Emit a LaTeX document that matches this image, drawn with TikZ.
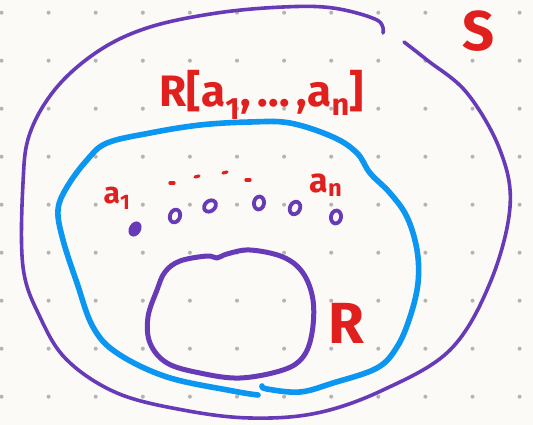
\documentclass[tikz,border=0pt]{standalone}
\usepackage{fontspec}
\setmainfont{Fira Sans}
\usepackage{xcolor}
\definecolor{paper}{HTML}{FCFAF6}
\definecolor{dotgray}{HTML}{B4B4B4}
\definecolor{penpurple}{HTML}{673AB7}
\definecolor{penblue}{HTML}{0B96F2}
\definecolor{penred}{HTML}{E0201E}
\usetikzlibrary{positioning}

\tikzset{
    griddot/.style={fill=dotgray},
    pen/.style={line cap=round, line join=round},
    setS/.style={pen, penpurple, line width=3.6pt},
    setRa/.style={pen, penblue, line width=5.6pt},
    setR/.style={pen, penpurple, line width=5pt},
    elem/.style={draw=penpurple, line width=3.8pt, fill=paper},
    label/.style={text=penred, inner sep=0pt, font=\bfseries}
}

\begin{document}
\begin{tikzpicture}[x=1pt, y=-1pt]
    \useasboundingbox (0,0) rectangle (533,425);
    \fill[paper] (0,0) rectangle (533,425);

    % dotted grid
    \foreach \i in {0,...,11} {
        \foreach \j in {0,...,8} {
            \fill[griddot] (1.5+47.1*\i, 12.7+48*\j) circle (2);
        }
    }

    % outer set S (open at the top right)
    \draw[setS] plot[smooth, tension=0.6] coordinates {
        (383,33) (377,20) (333,8) (283,7) (217,13) (150,27) (100,50)
        (57,87) (30,133) (23,183) (23,267) (40,317) (67,360) (117,393)
        (183,410) (250,418) (317,413) (383,390) (450,350) (490,283)
        (510,207) (500,150) (467,93) (427,60) (404,42)};

    % middle set R[a_1,...,a_n]
    \draw[setRa] plot[smooth, tension=0.6] coordinates {
        (258,395) (233,391) (167,377) (117,353) (93,327) (77,283)
        (63,240) (58,210) (67,187) (87,160) (107,143) (150,133)
        (200,125) (250,122) (290,123) (333,137) (357,153) (370,173)
        (390,193) (407,217) (417,250) (418,283) (410,317) (397,347)
        (377,368) (333,383) (300,392) (267,389) (262,386)};

    % inner set R
    \draw[setR] plot[smooth cycle, tension=0.6] coordinates {
        (217,258) (227,254) (250,250) (283,257) (303,273) (313,300)
        (312,333) (303,357) (283,370) (240,378) (200,373) (167,363)
        (150,343) (148,317) (157,290) (165,272) (180,261) (207,256)};

    % elements a_1 ... a_n
    \fill[penpurple, rotate around={-30:(135,229)}] (135,229) ellipse (6 and 8);
    \foreach \x/\y/\r in {175/216/-20, 210/206/-50, 259/203/-10, 295/208/-25, 336/217/-10} {
        \draw[elem, rotate around={\r:(\x,\y)}] (\x,\y) ellipse (5 and 6.5);
    }
    \foreach \x/\y/\a in {172/183/0, 197/177/-10, 225/173/-10, 248/180/0} {
        \draw[penred, pen, line width=3.2pt] (\x-2,\y) -- (\x+2,\y+\a/10);
    }

    % labels
    \node[label, font=\bfseries\fontsize{30}{30}\selectfont] (a1) at (117,198) {a\textsubscript{1}};
    \node[label, font=\bfseries\fontsize{34}{34}\selectfont] (an) at (326,185) {a\textsubscript{n}};
    \node[label, font=\bfseries\fontsize{44}{44}\selectfont] (ringRa) at (262,95)
        {R[a\textsubscript{1},\,...\,,a\textsubscript{n}]};
    \node[label, font=\bfseries\fontsize{56}{56}\selectfont] (nameS) at (479,31) {S};
    \node[label, font=\bfseries\fontsize{58}{58}\selectfont] (nameR) at (346,323) {R};
\end{tikzpicture}
\end{document}
